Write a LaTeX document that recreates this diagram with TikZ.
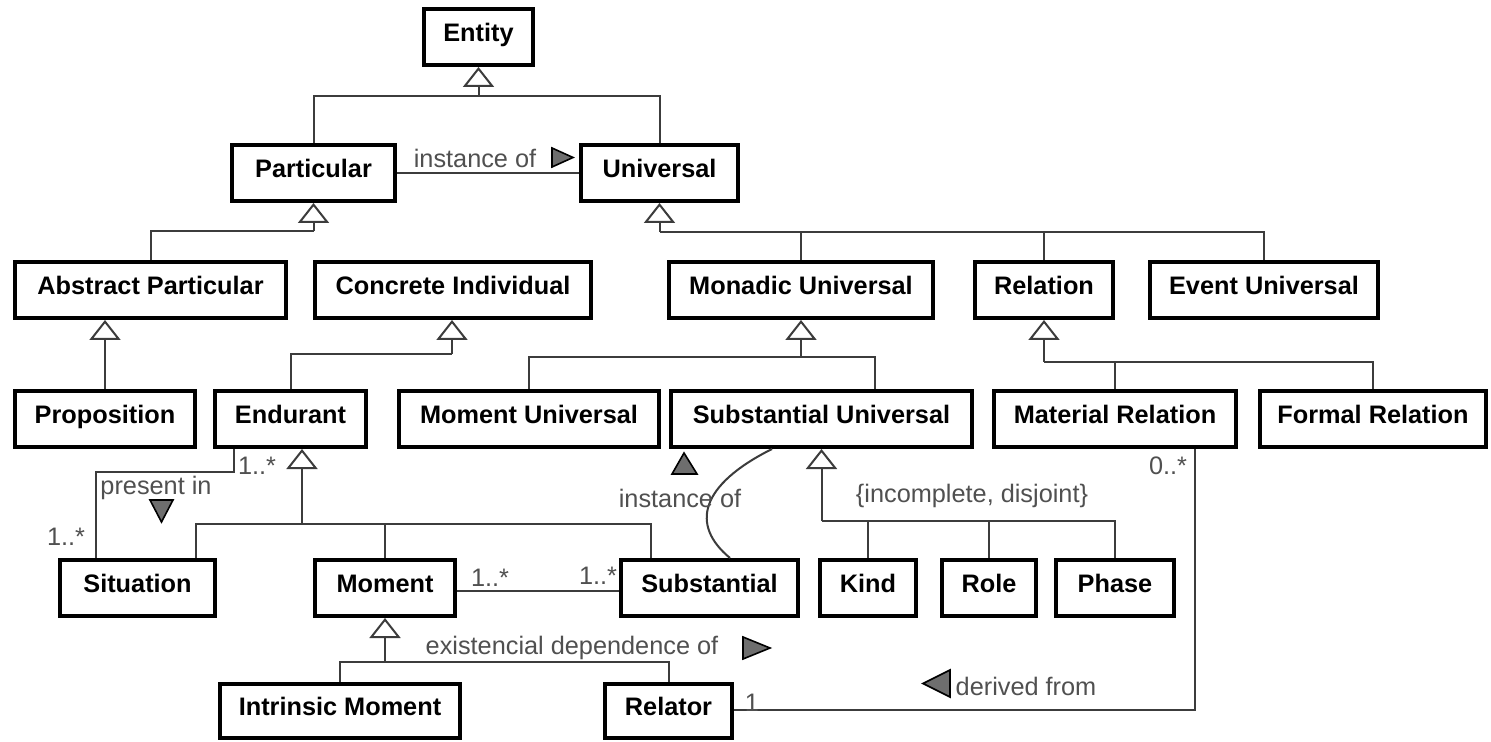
\documentclass[tikz,border=0pt]{standalone}
\usepackage{fontspec}
\setmainfont{Liberation Sans}
\usetikzlibrary{arrows.meta,calc}
\definecolor{lbl}{RGB}{80,80,80}
\definecolor{ln}{RGB}{60,60,60}
\definecolor{trif}{RGB}{110,110,110}
\begin{document}
\begin{tikzpicture}[x=0.5pt,y=-0.5pt,
 cls/.style={draw=black,line width=2pt,fill=white,inner sep=0pt,text height=9pt,text depth=4.5pt,font=\fontsize{12.65}{15}\selectfont\bfseries},
 sz/.style 2 args={minimum width={(#1-4)*0.5pt},minimum height={(#2-4)*0.5pt}},
 lab/.style={text=lbl,inner sep=0pt,font=\fontsize{12.65}{15}\selectfont},
 conn/.style={draw=ln,line width=1pt},
 gen/.style={conn,-{Triangle[open,length=10pt,width=15.5pt,fill=white]}},
 tri/.style={draw=black,line width=0.8pt,fill=trif,line join=miter}]
\useasboundingbox[fill=white] (0,0) rectangle (1491,742);

% classes
\node[cls,sz={113}{60}] (entity) at (478.5,37) {Entity};
\node[cls,sz={167}{60}] (particular) at (313.5,173) {Particular};
\node[cls,sz={161}{60}] (universal) at (659.5,173) {Universal};
\node[cls,sz={275}{60}] (abstract) at (150.5,290) {Abstract Particular};
\node[cls,sz={280}{60}] (concrete) at (453,290) {Concrete Individual};
\node[cls,sz={268}{60}] (monadic) at (801,290) {Monadic Universal};
\node[cls,sz={142}{60}] (relation) at (1044,290) {Relation};
\node[cls,sz={232}{60}] (event) at (1264,290) {Event Universal};
\node[cls,sz={184}{60}] (proposition) at (105,419) {Proposition};
\node[cls,sz={155}{60}] (endurant) at (290.5,419) {Endurant};
\node[cls,sz={264}{60}] (momentuniv) at (529,419) {Moment Universal};
\node[cls,sz={305}{60}] (substuniv) at (821.5,419) {Substantial Universal};
\node[cls,sz={246}{60}] (materialrel) at (1115,419) {Material Relation};
\node[cls,sz={230}{60}] (formalrel) at (1373,419) {Formal Relation};
\node[cls,sz={159}{60}] (situation) at (137.5,588) {Situation};
\node[cls,sz={144}{60}] (moment) at (385,588) {Moment};
\node[cls,sz={181}{60}] (substantial) at (709.5,588) {Substantial};
\node[cls,sz={100}{60}] (kind) at (868,588) {Kind};
\node[cls,sz={98}{60}] (role) at (989,588) {Role};
\node[cls,sz={122}{60}] (phase) at (1115,588) {Phase};
\node[cls,sz={244}{58}] (intrinsic) at (340,711) {Intrinsic Moment};
\node[cls,sz={131}{58}] (relator) at (668.5,711) {Relator};

% generalizations
\coordinate (j1) at (478.5,96);
\draw[conn] (particular.north) |- (j1) -| (universal.north);
\draw[gen] (j1) -- (entity.south);

\coordinate (j2) at (313.5,231);
\draw[conn] (abstract.north) |- (j2);
\draw[gen] (j2) -- (particular.south);

\coordinate (j3) at (659.5,232);
\draw[conn] (event.north) |- (j3);
\draw[conn] (monadic.north) -- (monadic.north |- j3);
\draw[conn] (relation.north) -- (relation.north |- j3);
\draw[gen] (j3) -- (universal.south);

\draw[gen] (proposition.north) -- (proposition.north |- abstract.south);

\coordinate (j4) at (452,354);
\draw[conn] (endurant.north) |- (j4);
\draw[gen] (j4) -- (j4 |- concrete.south);

\coordinate (j5) at (801,357);
\draw[conn] (momentuniv.north) |- (j5) -| ($(substuniv.north)+(53.5,0)$);
\draw[gen] (j5) -- (monadic.south);

\coordinate (j6) at (1044,362);
\draw[conn] (formalrel.north) |- (j6);
\draw[conn] (materialrel.north) -- (materialrel.north |- j6);
\draw[gen] (j6) -- (relation.south);

\coordinate (j7) at (302,524);
\draw[conn] ($(situation.north)+(58.5,0)$) |- (j7) -| ($(substantial.north)+(-58.5,0)$);
\draw[conn] (moment.north) -- (moment.north |- j7);
\draw[gen] (j7) -- (j7 |- endurant.south);

\coordinate (j8) at (821.5,521);
\draw[conn] (phase.north) |- (j8);
\draw[conn] (kind.north) -- (kind.north |- j8);
\draw[conn] (role.north) -- (role.north |- j8);
\draw[gen] (j8) -- (substuniv.south);
\node[lab] (incdis) at (972,496) {\{incomplete, disjoint\}};

\coordinate (j9) at (385,662);
\draw[conn] (intrinsic.north) |- (j9) -| (relator.north);
\draw[gen] (j9) -- (moment.south);

% instance of (Particular - Universal)
\draw[conn] (particular) -- (universal);
\node[lab] (inst1) at (475,158) {instance of};
\filldraw[tri] (552,148) -- (573,157.5) -- (552,167) -- cycle;

% present in
\coordinate (pin) at (96,472);
\draw[conn] ($(endurant.south)+(-56.5,0)$) |- (pin) -- (pin |- situation.north);
\node[lab] (m1) at (257,466) {1..*};
\node[lab] (presin) at (156,488) {present in};
\filldraw[tri] (150,500) -- (173,500) -- (161.5,522) -- cycle;
\node[lab] (m2) at (66,537) {1..*};

% Moment - Substantial
\draw[conn] ($(moment.east)+(0,3)$) -- ($(substantial.west)+(0,3)$);
\node[lab] (m3) at (490,578) {1..*};
\node[lab] (m4) at (598,576) {1..*};
\node[lab] (exdep) at (572,648) {existencial dependence of};
\filldraw[tri] (743,637) -- (770,648) -- (743,659) -- cycle;

% instance of (Substantial Universal - Substantial)
\draw[conn] ($(substuniv.south)+(-49.5,0)$) .. controls (700,485) and (690,525) .. ($(substantial.north)+(20.5,0)$);
\node[lab] (inst2) at (680,498) {instance of};
\filldraw[tri] (672,474) -- (684,453) -- (697,474) -- cycle;

% derived from
\draw[conn] ($(relator.east)+(0,-1)$) -| ($(materialrel.south)+(80,0)$);
\node[lab] (m5) at (752,703) {1};
\node[lab] (m6) at (1168,466) {0..*};
\node[lab] (derf) at (1026,686) {derived from};
\filldraw[tri] (950,670) -- (923,683.5) -- (950,697) -- cycle;
\end{tikzpicture}
\end{document}
